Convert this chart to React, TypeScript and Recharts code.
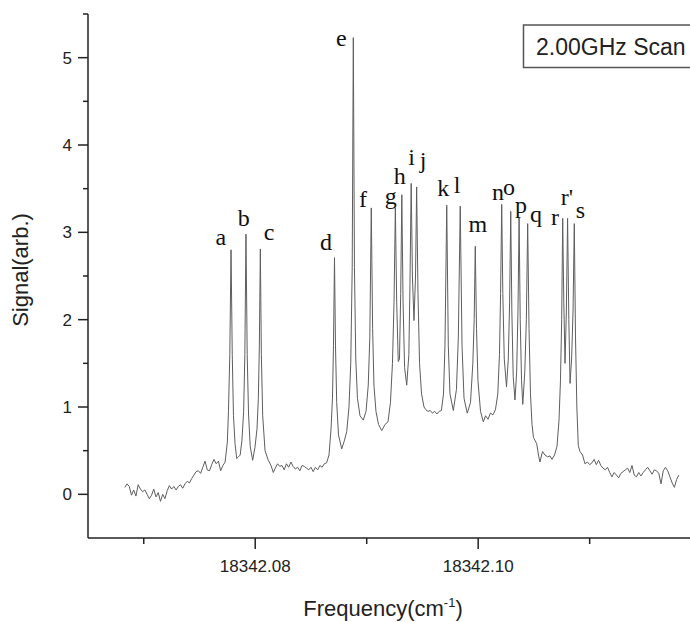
import React from "react";
import { ComposedChart, Line, Scatter, XAxis, YAxis } from "recharts";

// trace segments, [frequency (cm-1), signal]
const leftWing: [number, number][] = [
  [18342.0683, 0.08], [18342.0685, 0.12], [18342.0687, 0.09], [18342.0689, -0.01],
  [18342.0691, 0.05], [18342.0693, -0.02], [18342.0695, 0.11], [18342.0697, 0.06],
  [18342.0699, 0.03], [18342.0701, 0.05], [18342.0703, 0.0], [18342.0705, -0.05],
  [18342.0707, -0.01], [18342.0709, 0.06], [18342.0711, -0.03], [18342.0713, 0.02],
  [18342.0715, -0.08], [18342.0717, 0.0], [18342.0719, -0.05], [18342.0721, 0.04],
  [18342.0723, 0.1], [18342.0725, 0.06], [18342.0727, 0.09], [18342.0729, 0.05],
  [18342.0731, 0.09], [18342.0733, 0.11], [18342.0735, 0.07], [18342.0737, 0.12],
  [18342.0739, 0.15], [18342.0741, 0.13], [18342.0743, 0.18], [18342.0745, 0.22],
  [18342.0747, 0.26], [18342.0749, 0.27], [18342.0751, 0.24], [18342.0753, 0.31],
  [18342.0755, 0.38], [18342.0757, 0.28], [18342.0759, 0.27], [18342.0761, 0.34],
  [18342.0763, 0.4], [18342.0765, 0.35], [18342.0767, 0.38], [18342.0769, 0.27],
  [18342.0771, 0.33], [18342.0773, 0.37], [18342.0775, 0.6],
];

const abcPeaks: [number, number][] = [
  [18342.0776, 0.95], [18342.07772, 1.6], [18342.07783, 2.8], [18342.07794, 1.6],
  [18342.07805, 0.9], [18342.07819, 0.58], [18342.07834, 0.41], [18342.0785, 0.43],
  [18342.07865, 0.45], [18342.07881, 0.62], [18342.07896, 0.95], [18342.07907, 1.6],
  [18342.07917, 2.98], [18342.07928, 1.6], [18342.0794, 0.92], [18342.07955, 0.55],
  [18342.07977, 0.39], [18342.07998, 0.54], [18342.08016, 0.75], [18342.08028, 1.1],
  [18342.08037, 1.7], [18342.08046, 2.81], [18342.08055, 1.6], [18342.08067, 0.9],
  [18342.08088, 0.5], [18342.08117, 0.39], [18342.08142, 0.33], [18342.08162, 0.25],
];

const midBaseline: [number, number][] = [
  [18342.0818, 0.3], [18342.082, 0.35], [18342.0822, 0.32], [18342.0824, 0.33],
  [18342.0826, 0.28], [18342.0828, 0.35], [18342.083, 0.31], [18342.0832, 0.37],
  [18342.0834, 0.32], [18342.0836, 0.29], [18342.0838, 0.31], [18342.084, 0.27],
  [18342.0842, 0.33], [18342.0844, 0.32], [18342.0846, 0.3], [18342.0848, 0.28],
  [18342.085, 0.31], [18342.0852, 0.26], [18342.0854, 0.31], [18342.0856, 0.28],
  [18342.0858, 0.33], [18342.086, 0.31], [18342.0862, 0.35], [18342.0864, 0.36],
];

const centralBand: [number, number][] = [
  [18342.08662, 0.45], [18342.0868, 0.75], [18342.08693, 1.1], [18342.08702, 1.7],
  [18342.08711, 2.71], [18342.0872, 1.7], [18342.08731, 1.05], [18342.08747, 0.68],
  [18342.08776, 0.52], [18342.08801, 0.62], [18342.08821, 0.72], [18342.08841, 1.0],
  [18342.08857, 1.5], [18342.0887, 2.6], [18342.0888, 5.23], [18342.0889, 2.6],
  [18342.08902, 1.55], [18342.08917, 1.1], [18342.0894, 0.9], [18342.08969, 0.85],
  [18342.08994, 0.95], [18342.09014, 1.25], [18342.09028, 1.8], [18342.09041, 3.28],
  [18342.09053, 1.9], [18342.09065, 1.25], [18342.09083, 0.95], [18342.09106, 0.8],
  [18342.09135, 0.73], [18342.09164, 0.8], [18342.09191, 0.83], [18342.09213, 1.05],
  [18342.09231, 1.5], [18342.09245, 2.2], [18342.09257, 3.28], [18342.09269, 2.2],
  [18342.09283, 1.52], [18342.09294, 1.55], [18342.09305, 2.3], [18342.09315, 3.43],
  [18342.09326, 2.2], [18342.0934, 1.45], [18342.09359, 1.25], [18342.09378, 1.6],
  [18342.09388, 2.4], [18342.09399, 3.56], [18342.0941, 2.5], [18342.09424, 1.99],
  [18342.09438, 2.5], [18342.09448, 3.52], [18342.0946, 2.3], [18342.09474, 1.5],
  [18342.09492, 1.15], [18342.09514, 1.0], [18342.0953, 0.97], [18342.0955, 0.95],
  [18342.0957, 0.96], [18342.0959, 0.93], [18342.0961, 0.95], [18342.0963, 0.92],
  [18342.0965, 0.95], [18342.0967, 0.96], [18342.09689, 1.15], [18342.09702, 1.7],
  [18342.09718, 3.31], [18342.09732, 1.7], [18342.09747, 1.15], [18342.09777, 0.96],
  [18342.09805, 1.2], [18342.09822, 1.8], [18342.09839, 3.3], [18342.09855, 1.7],
  [18342.09873, 1.1], [18342.09902, 0.93], [18342.09931, 1.05], [18342.09952, 1.5],
  [18342.09964, 2.0], [18342.09974, 2.84], [18342.09985, 1.9], [18342.09998, 1.3],
  [18342.10021, 0.95], [18342.10046, 0.83], [18342.10066, 0.9], [18342.10088, 0.86],
  [18342.1011, 0.93], [18342.10133, 0.91], [18342.10155, 0.97],
];

const rightGroup: [number, number][] = [
  [18342.10176, 1.15], [18342.10191, 1.6], [18342.10201, 2.3], [18342.10211, 3.32],
  [18342.10221, 2.3], [18342.10234, 1.55], [18342.10254, 1.23], [18342.1027, 1.55],
  [18342.10282, 2.2], [18342.10292, 3.24], [18342.10302, 2.1], [18342.10314, 1.35],
  [18342.1033, 1.08], [18342.10345, 1.4], [18342.10357, 2.1], [18342.10367, 3.17],
  [18342.10377, 2.0], [18342.10389, 1.3], [18342.104, 1.03], [18342.10418, 1.4],
  [18342.10432, 2.0], [18342.10444, 3.1], [18342.10456, 1.9], [18342.10469, 1.15],
  [18342.10483, 0.8], [18342.10496, 0.65], [18342.10525, 0.58], [18342.10541, 0.45],
  [18342.10554, 0.37], [18342.10577, 0.49], [18342.10599, 0.45], [18342.10622, 0.43],
  [18342.10644, 0.44], [18342.10662, 0.4], [18342.10685, 0.45], [18342.10707, 0.55],
  [18342.10725, 0.85], [18342.10738, 1.3], [18342.10749, 2.0], [18342.10758, 3.16],
  [18342.10768, 2.2], [18342.10779, 1.5], [18342.10791, 2.1], [18342.10802, 3.16],
  [18342.10813, 2.0], [18342.10824, 1.27], [18342.10838, 1.55], [18342.10851, 2.1],
  [18342.10862, 3.1], [18342.10873, 1.8], [18342.10885, 1.0], [18342.10898, 0.56],
  [18342.10913, 0.49], [18342.10936, 0.45], [18342.10958, 0.35],
];

const rightWing: [number, number][] = [
  [18342.1098, 0.37], [18342.11, 0.34], [18342.1102, 0.36], [18342.1104, 0.4],
  [18342.1106, 0.34], [18342.1108, 0.39], [18342.111, 0.33], [18342.1112, 0.3],
  [18342.1114, 0.28], [18342.1116, 0.31], [18342.1118, 0.25], [18342.112, 0.2],
  [18342.1122, 0.25], [18342.1124, 0.22], [18342.1126, 0.19], [18342.1128, 0.24],
  [18342.113, 0.26], [18342.1132, 0.28], [18342.1134, 0.3], [18342.1136, 0.25],
  [18342.1138, 0.33], [18342.114, 0.22], [18342.1142, 0.2], [18342.1144, 0.25],
  [18342.1146, 0.21], [18342.1148, 0.25], [18342.115, 0.28], [18342.1152, 0.31],
  [18342.1154, 0.27], [18342.1156, 0.23], [18342.1158, 0.28], [18342.116, 0.27],
  [18342.1162, 0.24], [18342.1164, 0.12], [18342.1166, 0.27], [18342.1168, 0.31],
  [18342.117, 0.27], [18342.1172, 0.2], [18342.1174, 0.13], [18342.1176, 0.08],
  [18342.1178, 0.17], [18342.118, 0.22],
];

// peak letters, anchored (text baseline) in data coordinates
const peakNames = ["a", "b", "c", "d", "e", "f", "g", "h", "i", "j", "k", "l", "m", "n", "o", "p", "q", "r", "r'", "s"];
const peakLabelFreq = [
  18342.07691, 18342.07898, 18342.08124, 18342.08635, 18342.08772, 18342.08967,
  18342.09216, 18342.09296, 18342.09402, 18342.09505, 18342.09687, 18342.0981,
  18342.09996, 18342.10178, 18342.10276, 18342.10384, 18342.10519, 18342.10689,
  18342.10797, 18342.10918,
];
const peakLabelSignal = [
  2.85, 3.07, 2.91, 2.8, 5.13, 3.29, 3.32, 3.55, 3.77, 3.74,
  3.42, 3.45, 3.0, 3.37, 3.43, 3.22, 3.12, 3.08, 3.31, 3.16,
];

const xTicks = [18342.07, 18342.08, 18342.09, 18342.1, 18342.11];
const xTickLabels = ["", "18342.08", "", "18342.10", ""];
const yTicks = [0, 0.5, 1, 1.5, 2, 2.5, 3, 3.5, 4, 4.5, 5, 5.5];

const trace = [...leftWing, ...abcPeaks, ...midBaseline, ...centralBand, ...rightGroup, ...rightWing].map(
  ([freq, signal]) => ({ freq, signal })
);
const peakLabels = peakNames.map((name, i) => ({
  name,
  freq: peakLabelFreq[i],
  signal: peakLabelSignal[i],
}));

const SANS = "Arial, 'Liberation Sans', sans-serif";
const SERIF = "'Times New Roman', 'Liberation Serif', serif";
const AXIS = "#222";
const TRACE = "#5e5e5e";

function YTick(props: any) {
  const { x, y, payload } = props;
  const major = Number.isInteger(payload.value);
  return (
    <g>
      <line x1={x - (major ? 10 : 5)} x2={x} y1={y} y2={y} stroke={AXIS} strokeWidth={1.5} />
      {major && (
        <text x={x - 16} y={y + 6} textAnchor="end" fontSize={17} fontFamily={SANS} fill="#222">
          {payload.value}
        </text>
      )}
    </g>
  );
}

function XTick(props: any) {
  const { x, y, payload } = props;
  const i = xTicks.findIndex((t) => Math.abs(t - payload.value) < 1e-7);
  const label = i >= 0 ? xTickLabels[i] : "";
  return (
    <g>
      <line x1={x} x2={x} y1={y} y2={y + (label ? 11 : 6)} stroke={AXIS} strokeWidth={1.5} />
      {label && (
        <text x={x} y={y + 34} textAnchor="middle" fontSize={17} fontFamily={SANS} fill="#222">
          {label}
        </text>
      )}
    </g>
  );
}

function PeakLetter(props: any) {
  return (
    <text x={props.cx} y={props.cy} textAnchor="middle" fontSize={24} fontFamily={SERIF} fill="#111">
      {props.payload.name}
    </text>
  );
}

export default function App() {
  return (
    <div style={{ position: "absolute", left: 0, top: 0, width: 690, height: 622, overflow: "hidden", background: "#fff" }}>
      <ComposedChart width={690} height={622} data={trace} margin={{ top: 14, right: 0, bottom: 0, left: 0 }}>
        <XAxis
          type="number"
          dataKey="freq"
          domain={[18342.065, 18342.119]}
          allowDataOverflow
          ticks={xTicks}
          interval={0}
          tickSize={0}
          tickMargin={0}
          tickLine={false}
          tick={<XTick />}
          axisLine={{ stroke: AXIS, strokeWidth: 1.5 }}
          height={84}
        />
        <YAxis
          type="number"
          dataKey="signal"
          domain={[-0.5, 5.5]}
          allowDataOverflow
          ticks={yTicks}
          interval={0}
          tickSize={0}
          tickMargin={0}
          tickLine={false}
          tick={<YTick />}
          axisLine={{ stroke: AXIS, strokeWidth: 1.5 }}
          width={88}
        />
        <Line
          type="linear"
          dataKey="signal"
          stroke={TRACE}
          strokeWidth={1}
          dot={false}
          activeDot={false}
          isAnimationActive={false}
        />
        <Scatter data={peakLabels} dataKey="signal" shape={<PeakLetter />} isAnimationActive={false} />
      </ComposedChart>
      <svg width={690} height={622} style={{ position: "absolute", left: 0, top: 0, pointerEvents: "none" }}>
        <text
          x={28}
          y={270}
          transform="rotate(-90, 28, 270)"
          textAnchor="middle"
          fontSize={22}
          fontFamily={SANS}
          fill="#222"
        >
          Signal(arb.)
        </text>
        <text x={383} y={616} textAnchor="middle" fontSize={22} fontFamily={SANS} fill="#222">
          Frequency(cm
          <tspan dy={-9} fontSize={13}>-1</tspan>
          <tspan dy={9}>)</tspan>
        </text>
        <rect x={523.5} y={25} width={200} height={42.5} fill="#fff" stroke="#555" strokeWidth={1.5} />
        <text x={536} y={55} fontSize={23} fontFamily={SANS} fill="#222">
          2.00GHz Scan
        </text>
      </svg>
    </div>
  );
}
